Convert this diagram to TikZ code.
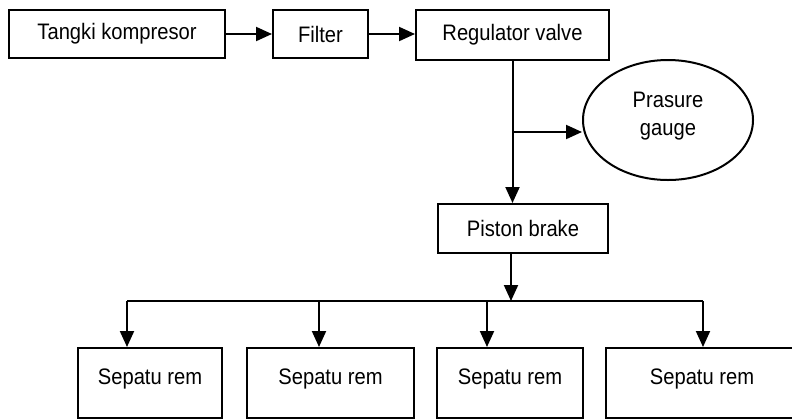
\documentclass[tikz,border=0pt]{standalone}
\usepackage{fontspec}
\setmainfont{Liberation Sans}[FakeStretch=0.9]
\usetikzlibrary{positioning,arrows.meta,shapes.geometric}

\begin{document}
\begin{tikzpicture}[x=0.75pt, y=-0.75pt,
  blok/.style={draw, line width=1.5pt, inner sep=0pt, font=\fontsize{16.8}{21}\selectfont},
  sepatu/.style={blok, minimum width=#1, minimum height=52.5pt, text height=12pt, text depth=10pt},
  panah/.style={line width=1.5pt, -{Triangle[length=12pt, width=10.5pt]}},
  garis/.style={line width=1.5pt}]
  \useasboundingbox (0,0) rectangle (792,419);
  \clip (0,0) rectangle (792,419);

  % Supply line
  \node[blok, minimum width=162pt, minimum height=36pt] (tangki) at (117,34) {Tangki kompresor};
  \node[blok, minimum width=71.25pt, minimum height=36pt] (filter) at (320.5,34) {Filter};
  \node[blok, minimum width=144.75pt, minimum height=37.5pt] (regul) at (512.5,34.5) {Regulator valve};
  \draw[panah] (tangki.east) -- (filter.west);
  \draw[panah] (filter.east) -- (filter.east -| regul.west);

  % Gauge and piston
  \node[blok, ellipse, minimum width=127.5pt, minimum height=90pt, align=center, text depth=9pt] (gauge) at (668,120) {Prasure\\gauge};
  \node[blok, minimum width=127.5pt, minimum height=36.75pt] (piston) at (523,228.5) {Piston brake};
  \coordinate (cabang) at (513,132);
  \draw[panah] (regul.south) -- (regul.south |- piston.north);
  \draw[panah] (cabang) -- (cabang -| gauge.west);

  % Brake shoes
  \node[sepatu=108pt] (sepatu1) at (150,383) {Sepatu rem};
  \node[sepatu=125.25pt] (sepatu2) at (330.5,383) {Sepatu rem};
  \node[sepatu=109.5pt] (sepatu3) at (510,383) {Sepatu rem};
  \node[sepatu=144pt] (sepatu4) at (702,383) {Sepatu rem};

  % Distribution bus
  \coordinate (bus) at (511,301);
  \draw[panah] (piston.south -| bus) -- (bus);
  \draw[garis] (bus -| 127,0) -- (bus -| 703,0);
  \foreach \xa/\k in {127/1, 319/2, 487/3, 703/4} {
    \draw[panah] (bus -| \xa,0) -- (\xa,0 |- sepatu\k.north);
  }
\end{tikzpicture}
\end{document}
